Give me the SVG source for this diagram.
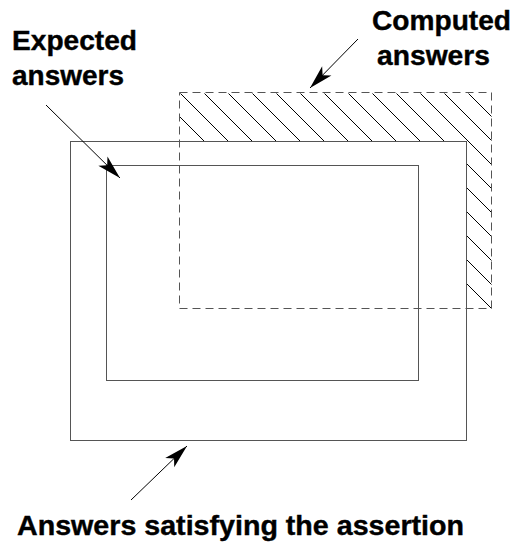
<svg xmlns="http://www.w3.org/2000/svg" width="514" height="546" viewBox="0 0 514 546">
  <style>
    .box { fill: none; stroke: #555; stroke-width: 1; }
    .dash { fill: none; stroke: #555; stroke-width: 1; stroke-dasharray: 8 5; }
    .hatch { stroke: #000; stroke-width: 1; }
    .lbl { font-family: "Liberation Sans", Arial, sans-serif; font-weight: bold; font-size: 28px; fill: #000; stroke: #000; stroke-width: 0.4; }
    .conn { stroke: #000; stroke-width: 1; fill: none; }
  </style>
  <defs>
    <marker id="ah" viewBox="-26 -8 28 16" refX="0" refY="0" markerWidth="28" markerHeight="16" markerUnits="userSpaceOnUse" orient="auto" overflow="visible">
      <path d="M0,0 L-24,-6.5 L-18,0 L-24,6.5 Z" fill="#000"/>
    </marker>
    <clipPath id="hclip">
      <rect x="179.5" y="92.5" width="312" height="49"/>
      <rect x="466.5" y="141.5" width="25" height="167"/>
    </clipPath>
  </defs>

  <rect width="514" height="546" fill="#fff"/>

  <g id="computed-hatch" clip-path="url(#hclip)">
    <path class="hatch" d="M108.5,93.5 L324.5,309.5 M132.5,93.5 L348.5,309.5 M156.5,93.5 L372.5,309.5 M180.5,93.5 L396.5,309.5 M204.5,93.5 L420.5,309.5 M228.5,93.5 L444.5,309.5 M252.5,93.5 L468.5,309.5 M276.5,93.5 L492.5,309.5 M300.5,93.5 L516.5,309.5 M324.5,93.5 L540.5,309.5 M348.5,93.5 L564.5,309.5 M372.5,93.5 L588.5,309.5 M396.5,93.5 L612.5,309.5 M420.5,93.5 L636.5,309.5 M444.5,93.5 L660.5,309.5 M468.5,93.5 L684.5,309.5 M492.5,93.5 L708.5,309.5"/>
  </g>

  <g id="satisfying">
    <rect class="box" x="70.5" y="141.5" width="396" height="299"/>
  </g>

  <g id="expected">
    <rect class="box" x="106.5" y="165.5" width="312" height="215"/>
  </g>

  <g id="computed">
    <rect class="dash" x="179.5" y="92.5" width="312" height="216"/>
  </g>

  <g id="connectors">
    <line class="conn" x1="46" y1="105" x2="120" y2="178" marker-end="url(#ah)"/>
    <line class="conn" x1="358" y1="39" x2="310" y2="88" marker-end="url(#ah)"/>
    <line class="conn" x1="131" y1="500" x2="187" y2="446" marker-end="url(#ah)"/>
  </g>

  <g id="labels">
    <text class="lbl" x="12" y="50" textLength="125" lengthAdjust="spacingAndGlyphs">Expected</text>
    <text class="lbl" x="12" y="85" textLength="112" lengthAdjust="spacingAndGlyphs">answers</text>
    <text class="lbl" x="372" y="30" textLength="139" lengthAdjust="spacingAndGlyphs">Computed</text>
    <text class="lbl" x="377" y="65" textLength="113" lengthAdjust="spacingAndGlyphs">answers</text>
    <text class="lbl" x="17" y="535" textLength="447" lengthAdjust="spacingAndGlyphs">Answers satisfying the assertion</text>
  </g>
</svg>
